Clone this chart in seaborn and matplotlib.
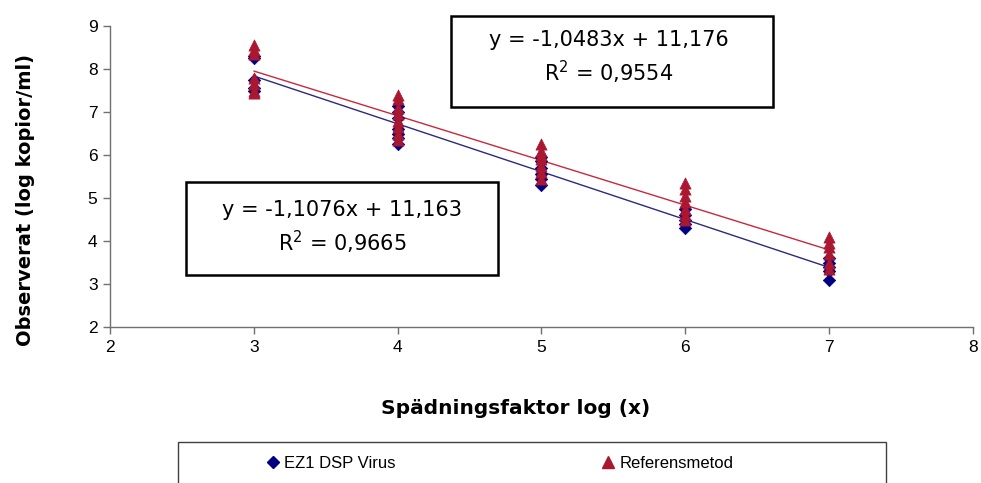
import numpy as np
import pandas as pd
import matplotlib
matplotlib.use("Agg")
import matplotlib.pyplot as plt
from matplotlib.patches import Rectangle
from matplotlib.lines import Line2D
import seaborn as sns

# ---- data ----
dilution = [3, 4, 5, 6, 7]
ez1_values = [
    [8.30, 8.25, 7.75, 7.55, 7.50],
    [7.15, 7.00, 6.85, 6.60, 6.50, 6.40, 6.25],
    [5.95, 5.85, 5.70, 5.55, 5.45, 5.30],
    [4.75, 4.60, 4.50, 4.40, 4.30],
    [3.60, 3.50, 3.40, 3.30, 3.10],
]
ref_values = [
    [8.55, 8.45, 8.35, 7.80, 7.65, 7.50, 7.45],
    [7.40, 7.30, 7.10, 6.95, 6.80, 6.65, 6.50, 6.35],
    [6.25, 6.10, 6.00, 5.90, 5.75, 5.60, 5.45],
    [5.35, 5.20, 5.05, 4.90, 4.75, 4.60, 4.50],
    [4.10, 3.95, 3.85, 3.70, 3.50, 3.35],
]
series_names = ["EZ1 DSP Virus", "Referensmetod"]
eq_ez1 = ["y = -1,1076x + 11,163", "R$^2$ = 0,9665"]
eq_ref = ["y = -1,0483x + 11,176", "R$^2$ = 0,9554"]
x_label = "Spädningsfaktor log (x)"
y_label = "Observerat (log kopior/ml)"

rows = []
for name, vals in zip(series_names, [ez1_values, ref_values]):
    for d, vs in zip(dilution, vals):
        for v in vs:
            rows.append({"x": d, "y": v, "series": name})
df = pd.DataFrame(rows)

blue = "#000080"
red = "#AA1730"

sns.set_theme(style="white")
plt.rcParams["font.family"] = ["Liberation Sans", "DejaVu Sans"]
plt.rcParams["text.color"] = "black"
plt.rcParams["xtick.color"] = "black"
plt.rcParams["ytick.color"] = "black"

W, H = 981, 483
fig = plt.figure(figsize=(W / 100, H / 100), dpi=100)
ax = fig.add_axes([110 / W, 1 - 327 / H, (973 - 110) / W, (327 - 26) / H])

def fx(px):
    return px / W

def fy(py):
    return 1 - py / H

d_ez = df[df.series == series_names[0]]
d_rf = df[df.series == series_names[1]]

sns.regplot(data=d_ez, x="x", y="y", scatter=False, ci=None, ax=ax,
            line_kws={"color": "#2a2a80", "lw": 1.0})
sns.regplot(data=d_rf, x="x", y="y", scatter=False, ci=None, ax=ax,
            line_kws={"color": "#C8283C", "lw": 1.0})
sns.scatterplot(data=d_ez, x="x", y="y", marker="D", color=blue, s=40,
                edgecolor=blue, linewidth=0.5, ax=ax, zorder=3)
sns.scatterplot(data=d_rf, x="x", y="y", marker="^", color=red, s=65,
                edgecolor=red, linewidth=0.5, ax=ax, zorder=4)

ax.set_xlim(2, 8)
ax.set_ylim(2, 9)
ax.set_xticks(range(2, 9))
ax.set_yticks(range(2, 10))
for s in ["top", "right"]:
    ax.spines[s].set_visible(False)
for s in ["left", "bottom"]:
    ax.spines[s].set_color("#707070")
    ax.spines[s].set_linewidth(1.0)
ax.tick_params(axis="both", which="major", direction="out", length=5,
               width=1, color="#707070", labelcolor="black", labelsize=12.5,
               pad=4, left=True, bottom=True)
for lab in ax.get_xticklabels() + ax.get_yticklabels():
    lab.set_fontfamily(["Liberation Sans", "DejaVu Sans"])
ax.set_xlabel("")
ax.set_ylabel("")

fig.text(fx(26), fy(200), y_label, rotation=90, ha="center", va="center",
         fontsize=14, fontweight="bold", family=["DejaVu Sans"])
fig.text(fx(516), fy(408), x_label, ha="center", va="center",
         fontsize=14.5, fontweight="bold", family=["DejaVu Sans"])

# equation boxes
def box(x0, y0, x1, y1, lw=1.8, color="black"):
    fig.add_artist(Rectangle((fx(x0), fy(y1)), fx(x1) - fx(x0), fy(y0) - fy(y1),
                             transform=fig.transFigure, fill=False,
                             edgecolor=color, linewidth=lw, zorder=5))

eq_size = 15
box(451, 16, 773, 107)
fig.text(fx(609), fy(40), eq_ref[0], ha="center", va="center", fontsize=eq_size,
         family=["DejaVu Sans"])
fig.text(fx(609), fy(72), eq_ref[1], ha="center", va="center", fontsize=eq_size,
         family=["DejaVu Sans"])
box(186, 182, 498, 275)
fig.text(fx(342), fy(210), eq_ez1[0], ha="center", va="center", fontsize=eq_size,
         family=["DejaVu Sans"])
fig.text(fx(342), fy(242), eq_ez1[1], ha="center", va="center", fontsize=eq_size,
         family=["DejaVu Sans"])

# legend
box(178, 442, 886, 484, lw=1.0, color="#404040")
h1 = Line2D([], [], marker="D", color=blue, linestyle="none", markersize=6)
h2 = Line2D([], [], marker="^", color=red, linestyle="none", markersize=8)
for h, name, xp in [(h1, series_names[0], 266), (h2, series_names[1], 601)]:
    lg = fig.legend([h], [name], loc="center left",
                    bbox_to_anchor=(fx(xp), fy(463)), frameon=False,
                    handlelength=0.8, handletextpad=0.3, borderpad=0,
                    borderaxespad=0,
                    prop={"family": ["Liberation Sans"], "size": 12})

fig.savefig("out.png", dpi=100)
